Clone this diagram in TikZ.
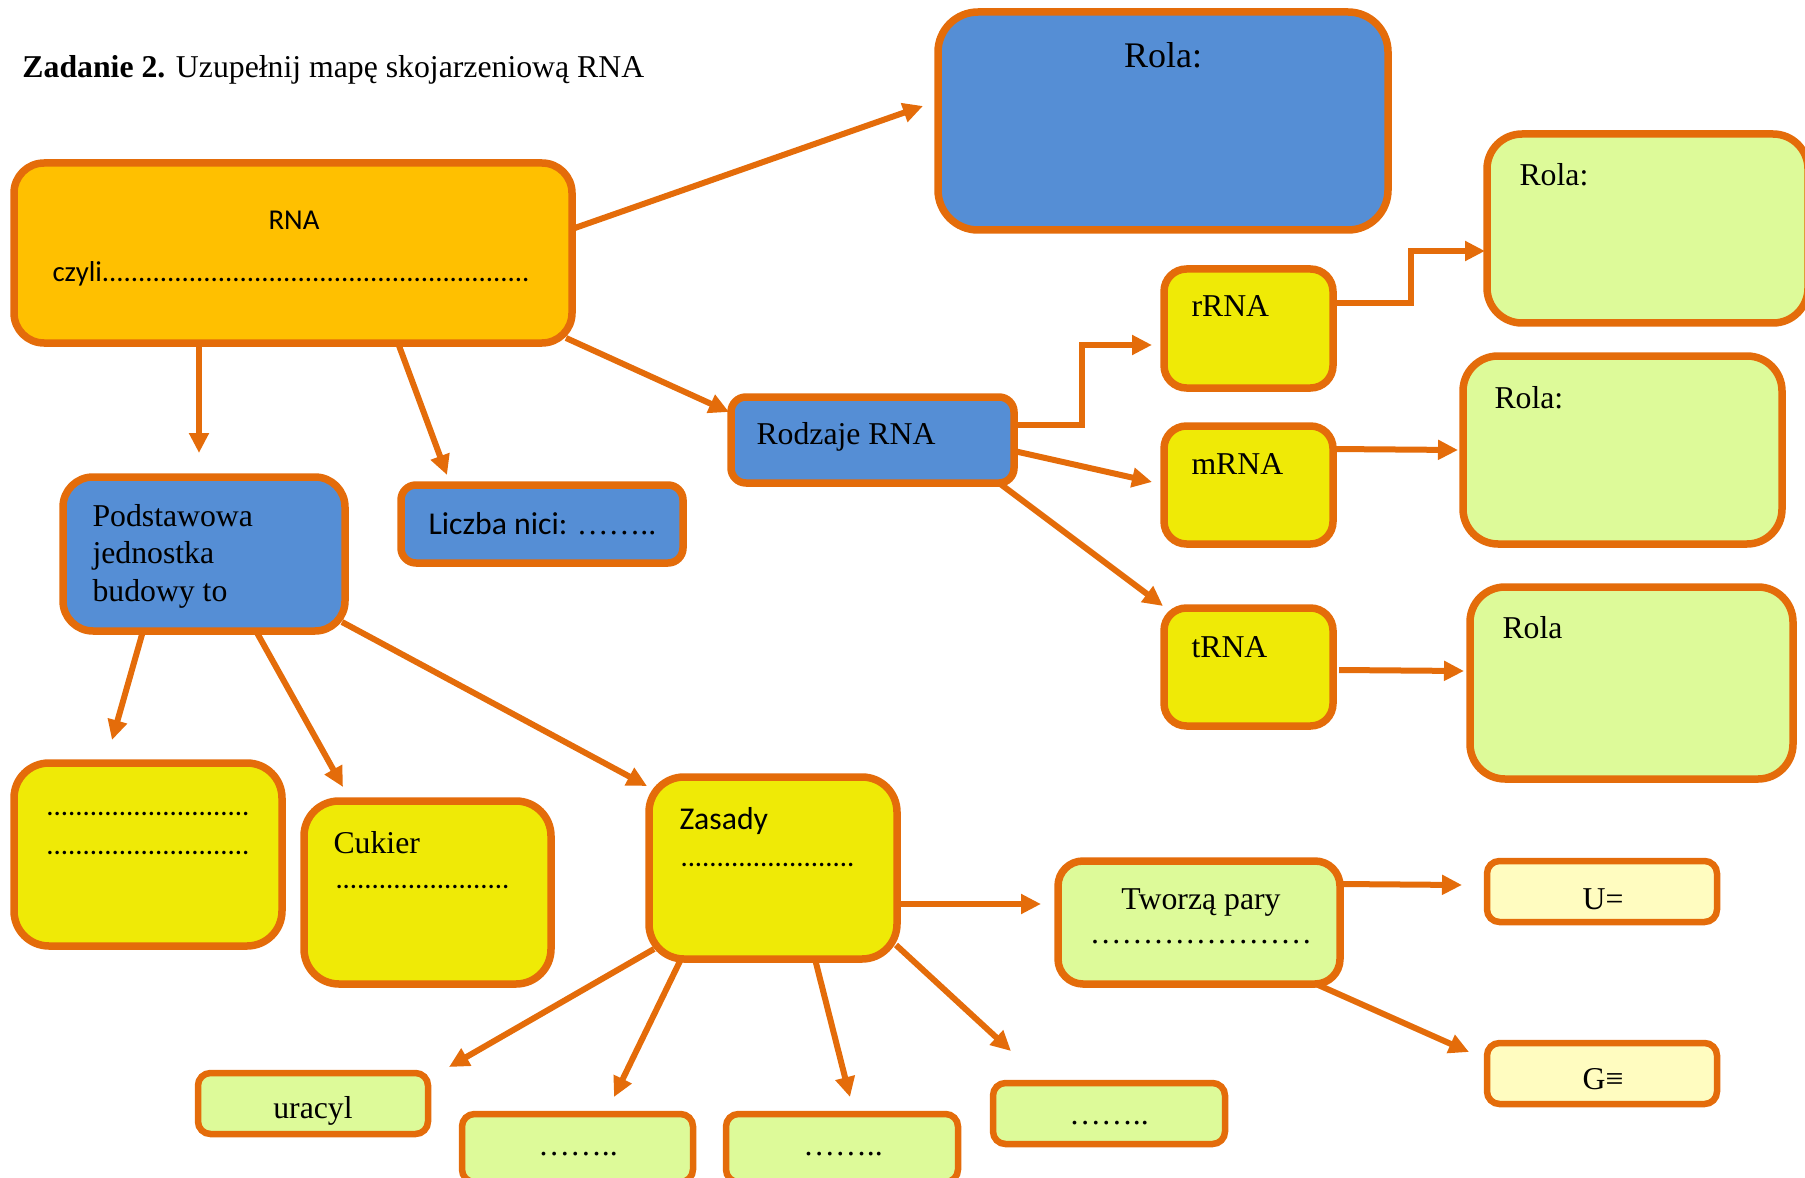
\documentclass[tikz,border=0pt]{standalone}
\usepackage{fontspec}
\setmainfont{Liberation Serif}
\newfontfamily\calfont{Carlito}
\usetikzlibrary{arrows.meta,calc,fit}

\definecolor{ora}{RGB}{228,108,10}
\definecolor{gold}{RGB}{255,192,0}
\definecolor{blu}{RGB}{85,142,213}
\definecolor{yel}{RGB}{239,234,6}
\definecolor{grn}{RGB}{221,250,153}
\definecolor{pale}{RGB}{255,252,192}

\tikzset{
  box/.style={draw=ora, line width=3pt, inner sep=0pt, outer sep=0pt, rounded corners=#1},
  box/.default=14pt,
  sbox/.style={draw=ora, line width=2.6pt, inner sep=0pt, outer sep=0pt, rounded corners=5pt},
  arr/.style={draw=ora, line width=2.4pt,
    -{Triangle[length=8pt,width=7.6pt]}},
  txt/.style={inner sep=0pt, anchor=west, yshift=-1.4pt, font=\fontsize{12.7}{15}\selectfont},
  ctxt/.style={txt, anchor=center},
  ctext/.style={inner sep=0pt, anchor=west, yshift=-1.4pt, font=\calfont\fontsize{12.7}{15}\selectfont},
}

\begin{document}
\begin{tikzpicture}[x=0.4pt,y=-0.4pt]
\useasboundingbox (0,0) rectangle (1805,1178);
\clip (0,0) rectangle (1805,1178);

% title
\node[txt] (title) at (22,66) {\textbf{Zadanie 2.} Uzupełnij mapę skojarzeniową RNA};

% boxes
\node[box=12pt, fill=gold, fit={(14,163)(572,343)}] (rna) {};
\node[box=16pt, fill=blu, fit={(938,12)(1388,230)}] (rolaB) {};
\node[box=14pt, fill=grn, fit={(1487,134)(1808,323)}] (rola1) {};
\node[box=9pt, fill=yel, fit={(1164,269)(1333,388)}] (rrna) {};
\node[box=6pt, fill=blu, fit={(731,397)(1014,483)}] (rodz) {};
\node[box=9pt, fill=yel, fit={(1164,426)(1333,544)}] (mrna) {};
\node[box=14pt, fill=grn, fit={(1463,356)(1782,544)}] (rola2) {};
\node[box=9pt, fill=yel, fit={(1164,608)(1333,726)}] (trna) {};
\node[box=14pt, fill=grn, fit={(1470,587)(1793,779)}] (rola3) {};
\node[box=12pt, fill=blu, fit={(63,477)(345,631)}] (podst) {};
\node[box=6pt, fill=blu, fit={(401,485)(683,563)}] (liczba) {};
\node[box=14pt, fill=yel, fit={(14,763)(282,946)}] (dotsbox) {};
\node[box=14pt, fill=yel, fit={(304,801)(551,984)}] (cukier) {};
\node[box=14pt, fill=yel, fit={(649,777)(897,959)}] (zasady) {};
\node[box=10pt, fill=grn, fit={(1058,861)(1340,984)}] (tworza) {};
\node[sbox, fill=pale, fit={(1487,861)(1717,922)}] (ueq) {};
\node[sbox, fill=pale, fit={(1487,1043)(1717,1104)}] (geq) {};
\node[sbox, fill=grn, fit={(198,1073)(428,1134)}] (uracyl) {};
\node[sbox, fill=grn, fit={(462,1114)(693,1182)}] (b1) {};
\node[sbox, fill=grn, fit={(726,1114)(958,1182)}] (b2) {};
\node[sbox, fill=grn, fit={(993,1083)(1225,1144)}] (b3) {};

% texts
\node[ctext, anchor=center, font=\calfont\fontsize{11.5}{14}\selectfont] (trna0) at (294,217) {RNA};
\node[ctext, font=\calfont\fontsize{11.5}{14}\selectfont] (tczyli) at (52,270)
  {czyli...........................................................};
\node[ctxt, font=\fontsize{14.4}{17}\selectfont] (trolaB) at (1163,52) {Rola:};
\node[txt] (trola1) at (1519,171) {Rola:};
\node[txt] (trrna) at (1191,303) {rRNA};
\node[txt] (trodz) at (756,433) {Rodzaje RNA};
\node[txt] (tmrna) at (1191,461) {mRNA};
\node[txt] (trola2) at (1494,394) {Rola:};
\node[txt] (ttrna) at (1191,644) {tRNA};
\node[txt] (trola3) at (1502,624) {Rola};
\node[txt, anchor=north west, align=left] (tpodst) at (92,500)
  {Podstawowa\\jednostka\\budowy to};
\node[ctext] (tliczba) at (428,520) {Liczba nici: {\rmfamily……..}};
\node[ctext, font=\calfont\fontsize{11.5}{14}\selectfont] (tdots1) at (46,810) {............................};
\node[ctext, font=\calfont\fontsize{11.5}{14}\selectfont] (tdots2) at (46,849) {............................};
\node[txt] (tcuk) at (333,839) {Cukier};
\node[ctext, font=\calfont\fontsize{11.5}{14}\selectfont] (tcukd) at (335,883) {........................};
\node[ctext] (tzas) at (679,818) {Zasady};
\node[ctext, font=\calfont\fontsize{11.5}{14}\selectfont] (tzasd) at (680,861) {........................};
\node[ctxt] (ttw) at (1201,899) {Tworzą pary};
\node[ctxt] (ttwd) at (1201,939) {…………………};
\node[ctxt] (tueq) at (1603,896) {U=};
\node[ctxt] (tgeq) at (1603,1076) {G≡};
\node[ctxt] (turac) at (313,1107) {uracyl};
\node[ctxt] (tb1) at (578,1151) {……..};
\node[ctxt] (tb2) at (843,1151) {……..};
\node[ctxt] (tb3) at (1109,1120) {……..};

% connectors
\draw[arr] ($(rna.north east)+(0,66)$) -- ($(rolaB.north west)+(-15,94)$);
\draw[arr] ($(rna.south west)+(185,0)$) -- ($(podst.north west)+(136,-24)$);
\draw[arr] ($(rna.south west)+(384,0)$) -- ($(liczba.north west)+(46,-10)$);
\draw[arr] ($(rna.south east)+(-6,-5)$) -- ($(rodz.north west)+(-2,15)$);

\draw[arr] ($(rodz.north east)+(0,28)$) -| ($(rrna.north west)+(-82,76)$) -- ($(rrna.north west)+(-12,76)$);
\draw[arr] ($(rodz.north east)+(0,54)$) -- ($(mrna.north west)+(-12,56)$);
\draw[arr] ($(rodz.south east)+(-15,0)$) -- ($(trna.north west)+(-1,-2)$);

\draw[arr] ($(rrna.north east)+(0,34)$) -| ($(rola1.north west)+(-76,117)$) -- ($(rola1.north west)+(-2,117)$);
\draw[arr] ($(mrna.north east)+(0,23)$) -- ($(rola2.north west)+(-5,94)$);
\draw[arr] ($(trna.north east)+(6,62)$) -- ($(rola3.north west)+(-6,84)$);

\draw[arr] ($(podst.south west)+(80,0)$) -- ($(dotsbox.north west)+(98,-23)$);
\draw[arr] ($(podst.south west)+(193,0)$) -- ($(cukier.north west)+(39,-14)$);
\draw[arr] ($(podst.south east)+(-3,-9)$) -- ($(zasady.north west)+(-2,9)$);

\draw[arr] ($(zasady.north east)+(0,127)$) -- ($(tworza.north west)+(-17,43)$);
\draw[arr] ($(zasady.south west)+(5,-10)$) -- ($(uracyl.north east)+(21,-6)$);
\draw[arr] ($(zasady.south west)+(32,0)$) -- ($(b1.north west)+(152,-17)$);
\draw[arr] ($(zasady.south west)+(166,0)$) -- ($(b2.north west)+(124,-17)$);
\draw[arr] ($(zasady.south east)+(-1,-14)$) -- ($(b3.north west)+(18,-32)$);

\draw[arr] ($(tworza.north east)+(0,23)$) -- ($(ueq.north west)+(-25,24)$);
\draw[arr] ($(tworza.south east)+(-24,0)$) -- ($(geq.north west)+(-18,9)$);
\end{tikzpicture}
\end{document}
